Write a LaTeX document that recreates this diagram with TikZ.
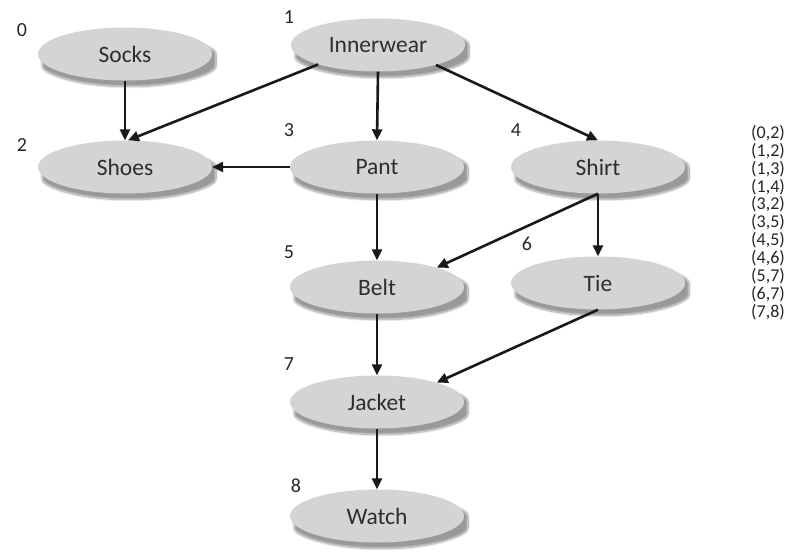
\documentclass[tikz,border=0pt]{standalone}
\usepackage{fontspec}
\setmainfont{Carlito}
\usetikzlibrary{shapes.geometric,arrows.meta,shadows.blur}
\begin{document}
\begin{tikzpicture}[x=1pt,y=-1pt,
  task/.style={ellipse,fill=black!17,draw=none,minimum width=174pt,minimum height=53pt,inner sep=0pt,
    font=\fontsize{23.5}{26}\selectfont,text=black!82,
    blur shadow={shadow xshift=4pt,shadow yshift=-6pt,shadow blur steps=12,shadow blur extra rounding=6pt,shadow opacity=40}},
  num/.style={font=\fontsize{20}{22}\selectfont,text=black!85,inner sep=0pt},
  edge/.style={font=\fontsize{18}{18}\selectfont,text=black!85,inner sep=0pt},
  arr/.style={-{Triangle[length=11pt,width=10pt]},line width=2.6pt,black!90}]
\useasboundingbox (0,0) rectangle (812,559);
\node[task] (socks) at (125,54) {Socks};
\node[task] (inner) at (378,45) {Innerwear};
\node[task] (shoes) at (125,167) {Shoes};
\node[task] (pant) at (377,167) {Pant};
\node[task] (shirt) at (598,167) {Shirt};
\node[task] (belt) at (377,287) {Belt};
\node[task] (tie) at (598,283) {Tie};
\node[task] (jacket) at (377,402) {Jacket};
\node[task] (watch) at (377,516) {Watch};
\node[num] (n0) at (22,30) {0};
\node[num] (n1) at (289,17) {1};
\node[num] (n2) at (22,145) {2};
\node[num] (n3) at (289,130) {3};
\node[num] (n4) at (516,130) {4};
\node[num] (n5) at (289,252) {5};
\node[num] (n6) at (527,244) {6};
\node[num] (n7) at (289,364) {7};
\node[num] (n8) at (296,486) {8};
\foreach \t [count=\i from 0] in {(0,2),(1,2),(1,3),(1,4),(3,2),(3,5),(4,5),(4,6),(5,7),(6,7),(7,8)}
  \node[edge] (e\i) at (768,133+17.9*\i) {\t};
\draw[arr] (socks.south) -- (shoes.north);
\draw[arr] (inner.198) -- ([xshift=3pt]shoes.north);
\draw[arr] (inner.south) -- (pant.north);
\draw[arr] (inner.-19) -- (shirt.north);
\draw[arr] (pant.west) -- (shoes.east);
\draw[arr] (pant.south) -- (belt.north);
\draw[arr] (shirt.south) -- (belt.18);
\draw[arr] (shirt.south) -- (tie.north);
\draw[arr] (belt.south) -- (jacket.north);
\draw[arr] (tie.south) -- (jacket.18);
\draw[arr] (jacket.south) -- (watch.north);
\end{tikzpicture}
\end{document}
